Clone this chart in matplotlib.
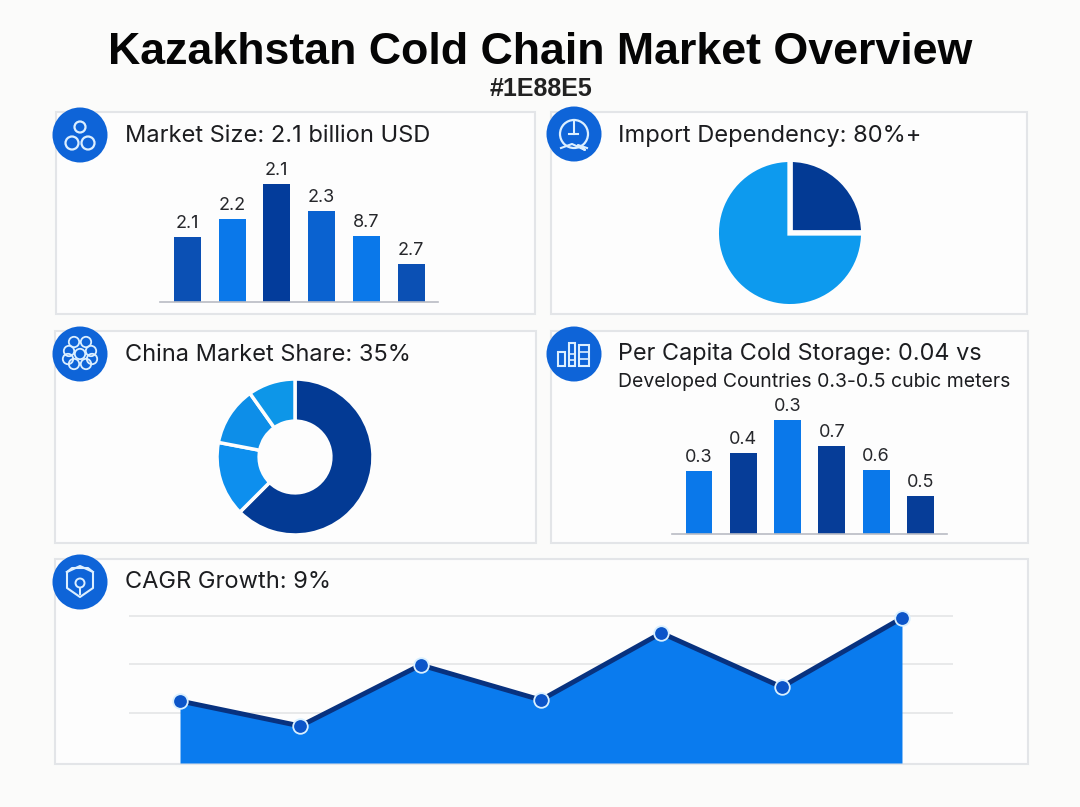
import matplotlib
matplotlib.use('Agg')
from matplotlib import pyplot as plt, patches

plt.rcParams['font.family'] = ['Inter', 'DejaVu Sans']

W, H = 1080, 807

# values (bar heights do not follow the printed labels)
size_heights = [65, 83, 118, 91, 66, 38]
size_labels = ['2.1', '2.2', '2.1', '2.3', '8.7', '2.7']
size_colors = ['#0b50b4', '#0a78ea', '#033c9b', '#0a62d0', '#0a78ea', '#0b50b4']

storage_heights = [63, 81, 114, 88, 64, 38]
storage_labels = ['0.3', '0.4', '0.3', '0.7', '0.6', '0.5']
storage_colors = ['#0a78ea', '#063d98', '#0a78ea', '#063d98', '#0a78ea', '#063d98']

import_shares = [25, 75]
import_colors = ['#033a94', '#0d9aee']

china_shares = [62.5, 15.5, 12.2, 9.8]
china_colors = ['#033a94', '#0d8fee', '#0d8ee8', '#0d96e8']

cagr_values = [62, 37, 98, 63, 130, 76, 145]
cagr_grid = [50, 99, 147]

LINE = '#e3e5e8'
BLUE = '#0e64d8'
ICON = '#dcefff'
TEXT = '#1c1d20'


def sub_axes(fig, x0, y0, x1, y1):
    # pixel box, y counted from the top of the image
    ax = fig.add_axes([x0 / W, 1 - y1 / H, (x1 - x0) / W, (y1 - y0) / H])
    ax.patch.set_alpha(0)
    return ax


def draw_bars(fig, heights, labels, colors, x0, x1, base, top):
    ax = sub_axes(fig, x0, top, x1, base)
    xs = range(len(heights))
    ax.bar(xs, heights, width=0.605, color=colors)
    for x, h, label in zip(xs, heights, labels):
        ax.text(x, h + 5, label, ha='center', va='bottom', fontsize=13, color='#26272b')
    ax.set_xlim(-0.61, 5.6)
    ax.set_ylim(0, base - top)
    ax.set_xticks([])
    ax.set_yticks([])
    for name in ['top', 'left', 'right']:
        ax.spines[name].set_visible(False)
    ax.spines['bottom'].set_color('#b9bcc4')
    ax.spines['bottom'].set_linewidth(1.2)


fig = plt.figure(figsize=(W / 100, H / 100), dpi=100, facecolor='#fbfbfa')
bg = fig.add_axes([0, 0, 1, 1])
bg.set_xlim(0, W)
bg.set_ylim(H, 0)
bg.axis('off')

bg.text(540, 52, 'Kazakhstan Cold Chain Market Overview', ha='center', va='center',
        fontsize=32.2, fontweight='bold', family='Liberation Sans', color='#050505')
bg.text(541, 89, '#1E88E5', ha='center', va='center', fontsize=18, fontweight='bold',
        family='Liberation Sans', color='#222222')

# panels
for x0, y0, x1, y1 in [(56, 112, 535, 314), (551, 112, 1027, 314), (55, 331, 536, 543),
                       (551, 331, 1028, 543), (55, 559, 1028, 764)]:
    bg.add_patch(patches.Rectangle((x0, y0), x1 - x0, y1 - y0, fc='#fdfdfd', ec=LINE, lw=1.5))

# headings
bg.text(125, 136, 'Market Size: 2.1 billion USD', va='center', fontsize=17, color=TEXT)
bg.text(618, 136, 'Import Dependency: 80%+', va='center', fontsize=17, color=TEXT)
bg.text(125, 355, 'China Market Share: 35%', va='center', fontsize=17, color=TEXT)
bg.text(618, 354, 'Per Capita Cold Storage: 0.04 vs', va='center', fontsize=16.9, color=TEXT)
bg.text(618, 382, 'Developed Countries 0.3-0.5 cubic meters', va='center', fontsize=14, color=TEXT)
bg.text(125, 582, 'CAGR Growth: 9%', va='center', fontsize=17, color=TEXT)

# icon badges
for cx, cy in [(80, 135), (574, 134), (80, 354), (574, 354), (80, 582)]:
    bg.add_patch(patches.Circle((cx, cy), 27.5, fc=BLUE, ec='none', zorder=3))

for c in [(80, 127, 5.5), (72, 143, 6.5), (88, 143, 6.5)]:
    bg.add_patch(patches.Circle(c[:2], c[2], fill=False, ec=ICON, lw=1.6, zorder=4))
bg.add_patch(patches.Circle((574, 134), 14, fill=False, ec=ICON, lw=1.6, zorder=4))
bg.plot([574, 574], [120, 134], color=ICON, lw=1.5, zorder=4)
bg.plot([569, 578], [134, 134], color=ICON, lw=1.5, zorder=4)
bg.plot([561, 572, 585, 578, 587], [148, 144, 150, 145, 148], color=ICON, lw=1.5, zorder=4)
for cx, cy in [(80, 354), (69, 351), (91, 351), (74, 342), (86, 342), (74, 364), (86, 364), (68, 359), (92, 359)]:
    bg.add_patch(patches.Circle((cx, cy), 5.2, fill=False, ec=ICON, lw=1.3, zorder=4))
for x, y, w, h in [(558, 352, 7, 14), (569, 343, 6, 23), (579, 345, 10, 21)]:
    bg.add_patch(patches.Rectangle((x, y), w, h, fill=False, ec=ICON, lw=1.5, zorder=4))
bg.plot([569, 575], [354, 354], color=ICON, lw=1.2, zorder=4)
bg.plot([569, 575], [360, 360], color=ICON, lw=1.2, zorder=4)
bg.plot([579, 589], [352, 352], color=ICON, lw=1.2, zorder=4)
bg.plot([579, 589], [359, 359], color=ICON, lw=1.2, zorder=4)
bg.plot([67, 67, 80, 93, 93, 88, 80, 72, 67], [572, 588, 597, 588, 572, 568, 568, 568, 572], color=ICON, lw=1.5, zorder=4)
bg.plot([67, 80, 93], [572, 566, 572], color=ICON, lw=1.5, zorder=4)
bg.add_patch(patches.Circle((80, 583), 4.5, fill=False, ec=ICON, lw=1.4, zorder=4))
bg.plot([80, 80], [588, 594], color=ICON, lw=1.4, zorder=4)

draw_bars(fig, size_heights, size_labels, size_colors, 160, 438, 302, 160)
draw_bars(fig, storage_heights, storage_labels, storage_colors, 672, 947, 534, 395)

# import dependency pie
ax = sub_axes(fig, 711, 154, 869, 312)
ax.pie(import_shares, colors=import_colors, startangle=90, counterclock=False, radius=1.007,
       wedgeprops={'edgecolor': '#fdfdfd', 'linewidth': 3.8})
ax.set_xlim(-1.08, 1.08)
ax.set_ylim(-1.08, 1.08)

# china share donut
ax = sub_axes(fig, 210, 372, 380, 542)
ax.pie(china_shares, colors=china_colors, startangle=90, counterclock=False, radius=1.0,
       wedgeprops={'edgecolor': '#fdfdfd', 'linewidth': 2.5, 'width': 0.54})
ax.set_xlim(-1.09, 1.09)
ax.set_ylim(-1.09, 1.09)

# cagr area
ax = sub_axes(fig, 129, 606, 953, 763)
xs = list(range(len(cagr_values)))
ax.set_xlim(-0.424, 6.424)
ax.set_ylim(0, 157)
ax.fill_between(xs, cagr_values, 0, color='#0a7bee', lw=0, zorder=2)
ax.plot(xs, cagr_values, color='#08327f', lw=3.5, zorder=3,
        marker='o', ms=10.5, mfc='#0b55c9', mec='#d9f0ff', mew=1.3, clip_on=False)
ax.set_yticks(cagr_grid)
ax.set_xticks([])
ax.grid(axis='y', color='#e2e3e5', lw=1.1, zorder=1)
ax.set_axisbelow(True)
ax.tick_params(length=0, labelleft=False)
for spine in ax.spines.values():
    spine.set_visible(False)

fig.savefig('out.png', dpi=100)
